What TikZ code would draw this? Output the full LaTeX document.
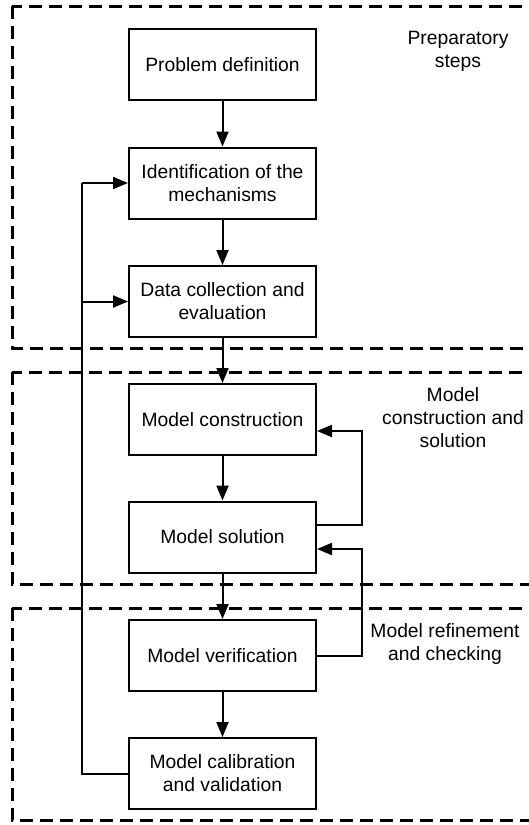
\documentclass[tikz,border=0pt]{standalone}
\usepackage{fontspec}
\setmainfont{Liberation Sans}
\usetikzlibrary{arrows.meta}
\begin{document}
\begin{tikzpicture}[x=1pt,y=-1pt,
  stepbox/.style={draw,line width=2pt,minimum width=187pt,minimum height=71pt,inner sep=0pt,align=center,font=\fontsize{19.3}{23}\selectfont},
  lbl/.style={align=center,font=\fontsize{19.3}{23}\selectfont,inner sep=0pt},
  arr/.style={line width=2pt,-{Triangle[length=15pt,width=12pt]}},
  ln/.style={line width=2pt},
  region/.style={line width=3pt,dash pattern=on 13pt off 7pt}]
\useasboundingbox (0,0) rectangle (529,825);
\clip (0,0) rectangle (529,825);
\draw[region] (12,6) rectangle (545,348);
\draw[region] (12,372) rectangle (545,584);
\draw[region] (12,608) rectangle (545,820);
\node[stepbox] (b1) at (222.5,64.5) {Problem definition};
\node[stepbox] (b2) at (222.5,183) {Identification of the\\mechanisms};
\node[stepbox] (b3) at (222.5,301.5) {Data collection and\\evaluation};
\node[stepbox] (b4) at (222.5,419.5) {Model construction};
\node[stepbox] (b5) at (222.5,537) {Model solution};
\node[stepbox] (b6) at (222.5,655.5) {Model verification};
\node[stepbox] (b7) at (222.5,773.5) {Model calibration\\and validation};
\node[lbl] (l1) at (458,51.5) {Preparatory\\steps};
\node[lbl] (l2) at (453,418) {Model\\construction and\\solution};
\node[lbl] (l3) at (445,644) {Model refinement\\and checking};
\draw[arr] (b1) -- (b2);
\draw[arr] (b2) -- (b3);
\draw[arr] (b3) -- (b4);
\draw[arr] (b4) -- (b5);
\draw[arr] (b5) -- (b6);
\draw[arr] (b6) -- (b7);
\coordinate (lx) at (82,0);
\draw[ln] (b7.west) -| (lx |- b2.west);
\draw[arr] (lx |- b2.west) -- (b2.west);
\draw[arr] (lx |- b3.west) -- (b3.west);
\coordinate (rx) at (362,0);
\coordinate (b4in) at ([yshift=-11.5pt]b4.east);
\coordinate (b5out) at ([yshift=12pt]b5.east);
\coordinate (b5in) at ([yshift=-12pt]b5.east);
\draw[arr] (b5out) -| (rx |- b4in) -- (b4in);
\draw[arr] (b6.east) -| (rx |- b5in) -- (b5in);
\end{tikzpicture}
\end{document}
